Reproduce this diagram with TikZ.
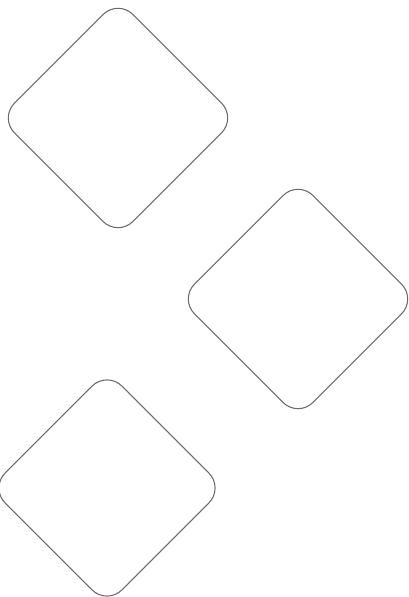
\documentclass[tikz,border=0pt]{standalone}
\usetikzlibrary{shapes.geometric}
\definecolor{outline}{HTML}{6a6a6a}
\begin{document}
\begin{tikzpicture}[
  x=0.025cm, y=0.025cm,
  line join=round,
  card/.style={diamond, draw=outline, line width=0.75pt, inner sep=0pt,
    minimum size=5.93cm, rounded corners=15pt},
]
\useasboundingbox (0,0) rectangle (408,597);
\node[card] (upper) at (118,479) {};
\node[card] (middle) at (298,298) {};
\node[card, minimum size=5.85cm] (lower) at (107,109) {};
\end{tikzpicture}
\end{document}
